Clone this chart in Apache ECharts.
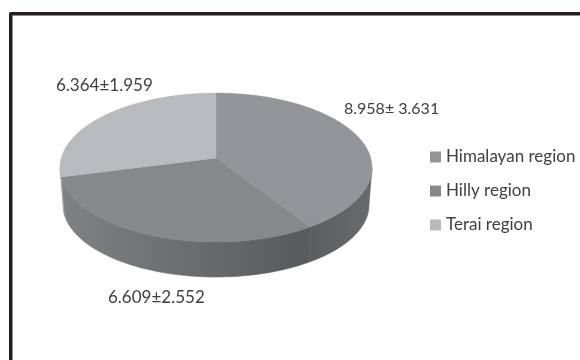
<!DOCTYPE html>
<html>
<head>
<meta charset="utf-8">
<style>html,body{margin:0;padding:0;background:#fff}#chart{width:580px;height:360px}</style>
<script src="https://cdn.jsdelivr.net/npm/echarts@6/dist/echarts.min.js"></script>
</head>
<body>
<div id="chart"></div>
<script>
// Mean values per region
const regions = ['Himalayan region', 'Hilly region', 'Terai region'];
const values = [8.958, 6.609, 6.364];
const valueLabels = ['8.958\u00b1 3.631', '6.609\u00b12.552', '6.364\u00b11.959'];

// Slice colours: top face and the two ends of the wall gradient
const topColors = ['#949598', '#87888a', '#b9babd'];
const wallLeft = ['#5c5d5f', '#808183', '#a0a1a3'];
const wallRight = ['#686a6c', '#58595b', '#a0a1a3'];

// Tilted disc: rim ellipses and the perspective factor that shifts the centre up
const topRim = { cx: 216, cy: 167.5, rx: 156, ry: 74.5 };
const bottomRim = { cx: 216, cy: 205, rx: 153, ry: 72 };
const tilt = -0.1275;
const labelPos = [[344, 109], [108, 298], [56, 86]];
const labelSize = [16, 17, 17];

const total = values.reduce((a, b) => a + b, 0);

// Project an angle (clockwise from twelve o'clock) onto a rim
function rimPoint(rim, deg) {
  const a = deg * Math.PI / 180;
  const u = Math.sin(a), v = -Math.cos(a);
  const d = 1 + tilt * v;
  return [
    rim.cx + rim.rx * u * Math.sqrt(1 - tilt * tilt) / d,
    rim.cy + rim.ry * (v + tilt) / d
  ];
}
function arc(rim, from, to) {
  const pts = [];
  const n = Math.max(2, Math.ceil(Math.abs(to - from) / 1.5));
  for (let i = 0; i <= n; i++) pts.push(rimPoint(rim, from + (to - from) * i / n));
  return pts;
}

// The wall is only visible between the two tangent angles of the front rim
const frontFrom = Math.acos(tilt) * 180 / Math.PI;
const frontTo = 360 - frontFrom;

function sliceRenderer(index) {
  const before = values.slice(0, index).reduce((a, b) => a + b, 0);
  const start = before / total * 360;
  const end = (before + values[index]) / total * 360;
  return function () {
    const children = [];
    const wFrom = Math.max(start, frontFrom), wTo = Math.min(end, frontTo);
    if (wTo > wFrom) {
      const up = arc(topRim, wFrom, wTo);
      const low = arc(bottomRim, wTo, wFrom);
      const xs = up.concat(low).map(p => p[0]);
      const fill = new echarts.graphic.LinearGradient(
        Math.min(...xs), 0, Math.max(...xs), 0,
        [{ offset: 0, color: wallLeft[index] }, { offset: 1, color: wallRight[index] }],
        true);
      children.push({
        type: 'polygon',
        shape: { points: up.concat(low) },
        style: { fill, stroke: fill, lineWidth: 0.6 }
      });
    }
    const apex = [topRim.cx, topRim.cy + topRim.ry * tilt];
    children.push({
      type: 'polygon',
      z2: 5,
      shape: { points: [apex].concat(arc(topRim, start, end)) },
      style: { fill: topColors[index], stroke: topColors[index], lineWidth: 0.4 }
    });
    children.push({
      type: 'text',
      z2: 10,
      style: {
        x: labelPos[index][0], y: labelPos[index][1],
        text: valueLabels[index],
        fill: '#404040',
        font: labelSize[index] + 'px Lato',
        verticalAlign: 'middle'
      }
    });
    return { type: 'group', children };
  };
}

const chart = echarts.init(document.getElementById('chart'), null, { renderer: 'canvas' });
chart.setOption({
  animation: false,
  backgroundColor: '#ffffff',
  legend: {
    orient: 'vertical',
    left: 425,
    top: 143,
    itemWidth: 11,
    itemHeight: 11,
    itemGap: 16,
    icon: 'rect',
    data: regions,
    textStyle: { fontFamily: 'Lato', fontSize: 17, color: '#404040', lineHeight: 18 }
  },
  graphic: [{
    type: 'polyline',
    shape: { points: [[10.75, 362], [10.75, 13.75], [582, 13.75]] },
    style: { stroke: '#231f20', lineWidth: 3.5, fill: null, lineJoin: 'round' }
  }],
  series: regions.map((name, i) => ({
    type: 'custom',
    name,
    coordinateSystem: 'none',
    itemStyle: { color: topColors[i] },
    renderItem: sliceRenderer(i),
    data: [values[i]]
  }))
});
</script>
</body>
</html>
